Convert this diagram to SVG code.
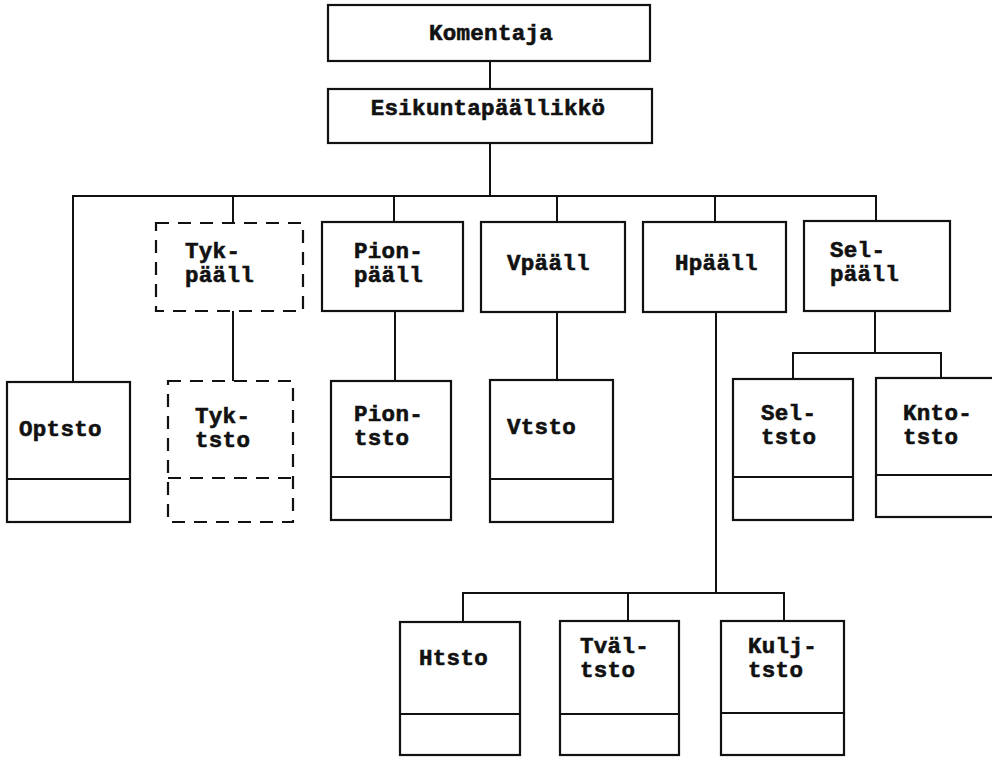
<svg xmlns="http://www.w3.org/2000/svg" width="992" height="758" viewBox="0 0 992 758">
<style>
.box{fill:#fff;stroke:#111;stroke-width:2.2}
.dash{fill:#fff;stroke:#111;stroke-width:2.2;stroke-dasharray:13 9}
.div{stroke:#111;stroke-width:2.2;fill:none}
.ddiv{stroke:#111;stroke-width:2.2;fill:none;stroke-dasharray:13 9}
.ln{stroke:#111;stroke-width:2;fill:none}
text{font-family:"Liberation Mono","DejaVu Sans Mono",monospace;font-weight:bold;font-size:22.5px;fill:#111;stroke:#111;stroke-width:0.6px;letter-spacing:0.3px}
</style>
<rect width="992" height="758" fill="#fff"/>
<g id="connectors">
<line class="ln" x1="490" y1="61" x2="490" y2="89"/>
<line class="ln" x1="490" y1="143" x2="490" y2="196"/>
<polyline class="ln" points="73,382 73,196 876,196 876,222"/>
<line class="ln" x1="233" y1="196" x2="233" y2="223"/>
<line class="ln" x1="394" y1="196" x2="394" y2="222"/>
<line class="ln" x1="557" y1="196" x2="557" y2="222"/>
<line class="ln" x1="715" y1="196" x2="715" y2="222"/>
<line class="ln" x1="233" y1="311" x2="233" y2="381"/>
<line class="ln" x1="395" y1="311" x2="395" y2="381"/>
<line class="ln" x1="557" y1="312" x2="557" y2="380"/>
<line class="ln" x1="875" y1="311" x2="875" y2="353"/>
<polyline class="ln" points="793,379 793,353 941,353 941,378"/>
<line class="ln" x1="716" y1="312" x2="716" y2="593"/>
<polyline class="ln" points="463,622 463,593 784,593 784,621"/>
<line class="ln" x1="628" y1="593" x2="628" y2="621"/>
</g>
<g id="komentaja">
<rect class="box" x="328" y="5" width="322" height="56"/>
<text x="491" y="40" text-anchor="middle">Komentaja</text>
</g>
<g id="esikuntapaallikko">
<rect class="box" x="328" y="89" width="324" height="54"/>
<text x="488" y="115" text-anchor="middle">Esikuntapäällikkö</text>
</g>
<g id="tykpaall">
<rect class="dash" x="156" y="223" width="147" height="88"/>
<text x="185" y="258">Tyk-</text>
<text x="185" y="282">pääll</text>
</g>
<g id="pionpaall">
<rect class="box" x="322" y="222" width="141" height="89"/>
<text x="354" y="258">Pion-</text>
<text x="354" y="282">pääll</text>
</g>
<g id="vpaall">
<rect class="box" x="481" y="222" width="144" height="90"/>
<text x="507" y="270">Vpääll</text>
</g>
<g id="hpaall">
<rect class="box" x="643" y="222" width="143" height="90"/>
<text x="675" y="270">Hpääll</text>
</g>
<g id="selpaall">
<rect class="box" x="804" y="221" width="146" height="90"/>
<text x="830" y="257">Sel-</text>
<text x="830" y="281">pääll</text>
</g>
<g id="optsto">
<rect class="box" x="7" y="382" width="123" height="140"/>
<line class="div" x1="7" y1="479" x2="130" y2="479"/>
<text x="19" y="436">Optsto</text>
</g>
<g id="tyktsto">
<rect class="dash" x="168" y="381" width="125" height="141"/>
<line class="ddiv" x1="168" y1="478" x2="293" y2="478"/>
<text x="195" y="423">Tyk-</text>
<text x="195" y="447">tsto</text>
</g>
<g id="piontsto">
<rect class="box" x="331" y="381" width="120" height="139"/>
<line class="div" x1="331" y1="477" x2="451" y2="477"/>
<text x="354" y="421">Pion-</text>
<text x="354" y="445">tsto</text>
</g>
<g id="vtsto">
<rect class="box" x="490" y="380" width="123" height="142"/>
<line class="div" x1="490" y1="479" x2="613" y2="479"/>
<text x="507" y="434">Vtsto</text>
</g>
<g id="seltsto">
<rect class="box" x="733" y="379" width="120" height="141"/>
<line class="div" x1="733" y1="477" x2="853" y2="477"/>
<text x="761" y="420">Sel-</text>
<text x="761" y="444">tsto</text>
</g>
<g id="kntotsto">
<rect class="box" x="876" y="378" width="130" height="139"/>
<line class="div" x1="876" y1="475" x2="992" y2="475"/>
<text x="903" y="420">Knto-</text>
<text x="903" y="444">tsto</text>
</g>
<g id="htsto">
<rect class="box" x="400" y="622" width="120" height="133"/>
<line class="div" x1="400" y1="714" x2="520" y2="714"/>
<text x="419" y="665">Htsto</text>
</g>
<g id="tvaltsto">
<rect class="box" x="560" y="621" width="119" height="134"/>
<line class="div" x1="560" y1="714" x2="679" y2="714"/>
<text x="580" y="653">Tväl-</text>
<text x="580" y="677">tsto</text>
</g>
<g id="kuljtsto">
<rect class="box" x="721" y="621" width="123" height="134"/>
<line class="div" x1="721" y1="713" x2="844" y2="713"/>
<text x="748" y="653">Kulj-</text>
<text x="748" y="677">tsto</text>
</g>
</svg>
